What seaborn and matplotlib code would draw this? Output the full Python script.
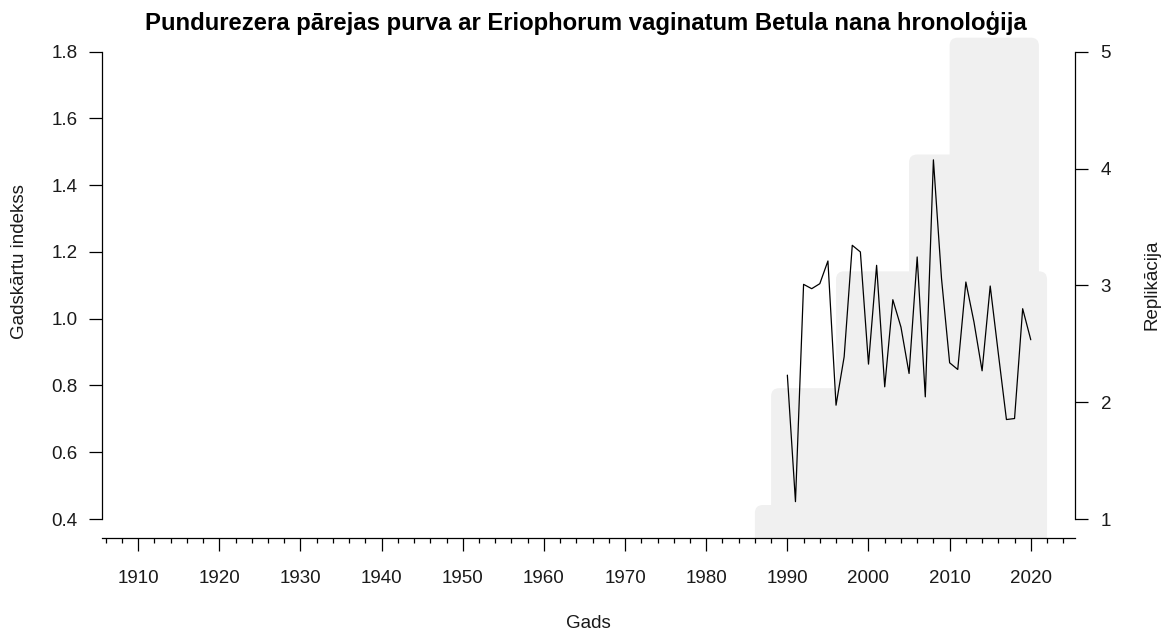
import numpy as np
import pandas as pd
import matplotlib
matplotlib.use("Agg")
import matplotlib.pyplot as plt
import matplotlib.transforms as mtransforms
from matplotlib.patches import FancyBboxPatch
import seaborn as sns

# ---- data ----
years = list(range(1990, 2021))
rwi = [0.831, 0.452, 1.103, 1.090, 1.105, 1.173, 0.741, 0.886, 1.220, 1.200,
       0.864, 1.160, 0.796, 1.057, 0.975, 0.836, 1.185, 0.766, 1.476, 1.120,
       0.868, 0.848, 1.110, 0.990, 0.844, 1.098, 0.896, 0.698, 0.701, 1.030,
       0.937]

depth_years = list(range(1986, 2022))
depth = [1, 1,
         2, 2, 2, 2, 2, 2, 2, 2,
         3, 3, 3, 3, 3, 3, 3, 3, 3,
         4, 4, 4, 4, 4,
         5, 5, 5, 5, 5, 5, 5, 5, 5, 5, 5,
         3]

y_ticks = [0.4, 0.6, 0.8, 1.0, 1.2, 1.4, 1.6, 1.8]
y2_ticks = [1, 2, 3, 4, 5]
x_major = list(range(1910, 2021, 10))
x_minor = list(range(1906, 2025, 2))

title = "Pundurezera pārejas purva ar Eriophorum vaginatum Betula nana hronoloģija"
xlabel = "Gads"
ylabel = "Gadskārtu indekss"
y2label = "Replikācija"

# ---- style ----
sns.set_theme(style="white")
plt.rcParams["font.family"] = ["Liberation Sans", "DejaVu Sans"]
FS = 13.5
TXT = "#1a1a1a"
FILL = "#F0F0F0"

W, H = 1170, 630
fig = plt.figure(figsize=(W / 100, H / 100), dpi=100)
L, R = 101.7 / W, 1075 / W
B, T = 1 - 537.7 / H, 1 - 33 / H
ax = fig.add_axes([L, B, R - L, T - B])
ax2 = ax.twinx()

ax.set_xlim(1905.5, 2025.45)
ax.set_ylim(0.344, 1.856)
ax2.set_ylim(0.84, 5.16)

# chronology line (front)
df = pd.DataFrame({"year": years, "rwi": rwi})
sns.lineplot(data=df, x="year", y="rwi", color="black", linewidth=0.9, ax=ax)
ax.set_zorder(ax2.get_zorder() + 1)
ax.patch.set_visible(False)

# sample depth area (behind), drawn as rounded steps from the depth data
segs = []
for yr, d in zip(depth_years, depth):
    if segs and segs[-1][2] == d:
        segs[-1][1] = yr + 1
    else:
        segs.append([yr, yr + 1, d])
rad = 8.0      # px corner rounding
lift = 14.0    # px vertical offset of the polygon
ybot = ax2.transData.transform((0, ax2.get_ylim()[0]))[1] - 30
for i, (x0, x1, d) in enumerate(segs):
    px0 = ax2.transData.transform((x0, d))[0]
    px1 = ax2.transData.transform((x1, d))[0]
    ptop = ax2.transData.transform((x0, d))[1] + lift
    if i > 0 and segs[i - 1][2] > d:
        px0 -= 3 * rad
    if i < len(segs) - 1 and segs[i + 1][2] > d:
        px1 += 3 * rad
    p = FancyBboxPatch((px0, ybot), px1 - px0, ptop - ybot,
                       boxstyle=f"round,pad=0,rounding_size={rad}",
                       transform=mtransforms.IdentityTransform(),
                       facecolor=FILL, edgecolor="none", linewidth=0)
    ax2.add_patch(p)

ax.set_yticks(y_ticks)
ax.set_yticklabels([f"{v:.1f}" for v in y_ticks])
ax.set_xticks(x_major)
ax.set_xticks(x_minor, minor=True)
ax.set_xticklabels([str(v) for v in x_major])
ax2.set_yticks(y2_ticks)
ax2.set_yticklabels([str(v) for v in y2_ticks])

for a in (ax, ax2):
    for s in a.spines.values():
        s.set_visible(False)
ax.spines["left"].set_visible(True)
ax.spines["left"].set_bounds(0.4, 1.8)
ax.spines["bottom"].set_visible(True)
ax2.spines["right"].set_visible(True)
ax2.spines["right"].set_bounds(1, 5)
for sp in (ax.spines["left"], ax.spines["bottom"], ax2.spines["right"]):
    sp.set_color("black")
    sp.set_linewidth(0.9)

ax.tick_params(axis="y", which="major", direction="out", length=9.4, width=0.9,
               color="black", labelsize=FS, pad=8, left=True, labelcolor=TXT)
ax.tick_params(axis="x", which="major", direction="out", length=9, width=0.9,
               color="black", labelsize=FS, pad=14, bottom=True, labelcolor=TXT)
ax.tick_params(axis="x", which="minor", direction="out", length=3.5, width=0.9,
               color="black", bottom=True)
ax2.tick_params(axis="y", which="major", direction="out", length=9.4, width=0.9,
                color="black", labelsize=FS, pad=9, right=True, labelcolor=TXT)

ax.set_xlabel("")
ax.set_ylabel("")
ax2.set_ylabel("")
ax.grid(False)
ax2.grid(False)

fig.text(586 / W, 1 - 30 / H, title, ha="center", va="baseline",
         fontsize=17.2, fontweight="bold", color="black")
fig.text(588 / W, 1 - 628 / H, xlabel, ha="center", va="baseline",
         fontsize=FS, color=TXT)
fig.text(20 / W, 1 - 262 / H, ylabel, ha="center", va="center",
         rotation=90, fontsize=FS, color=TXT)
fig.text(1152 / W, 1 - 285 / H, y2label, ha="center", va="center",
         rotation=90, fontsize=FS, color=TXT)

fig.savefig("out.png", dpi=100, facecolor="white")
